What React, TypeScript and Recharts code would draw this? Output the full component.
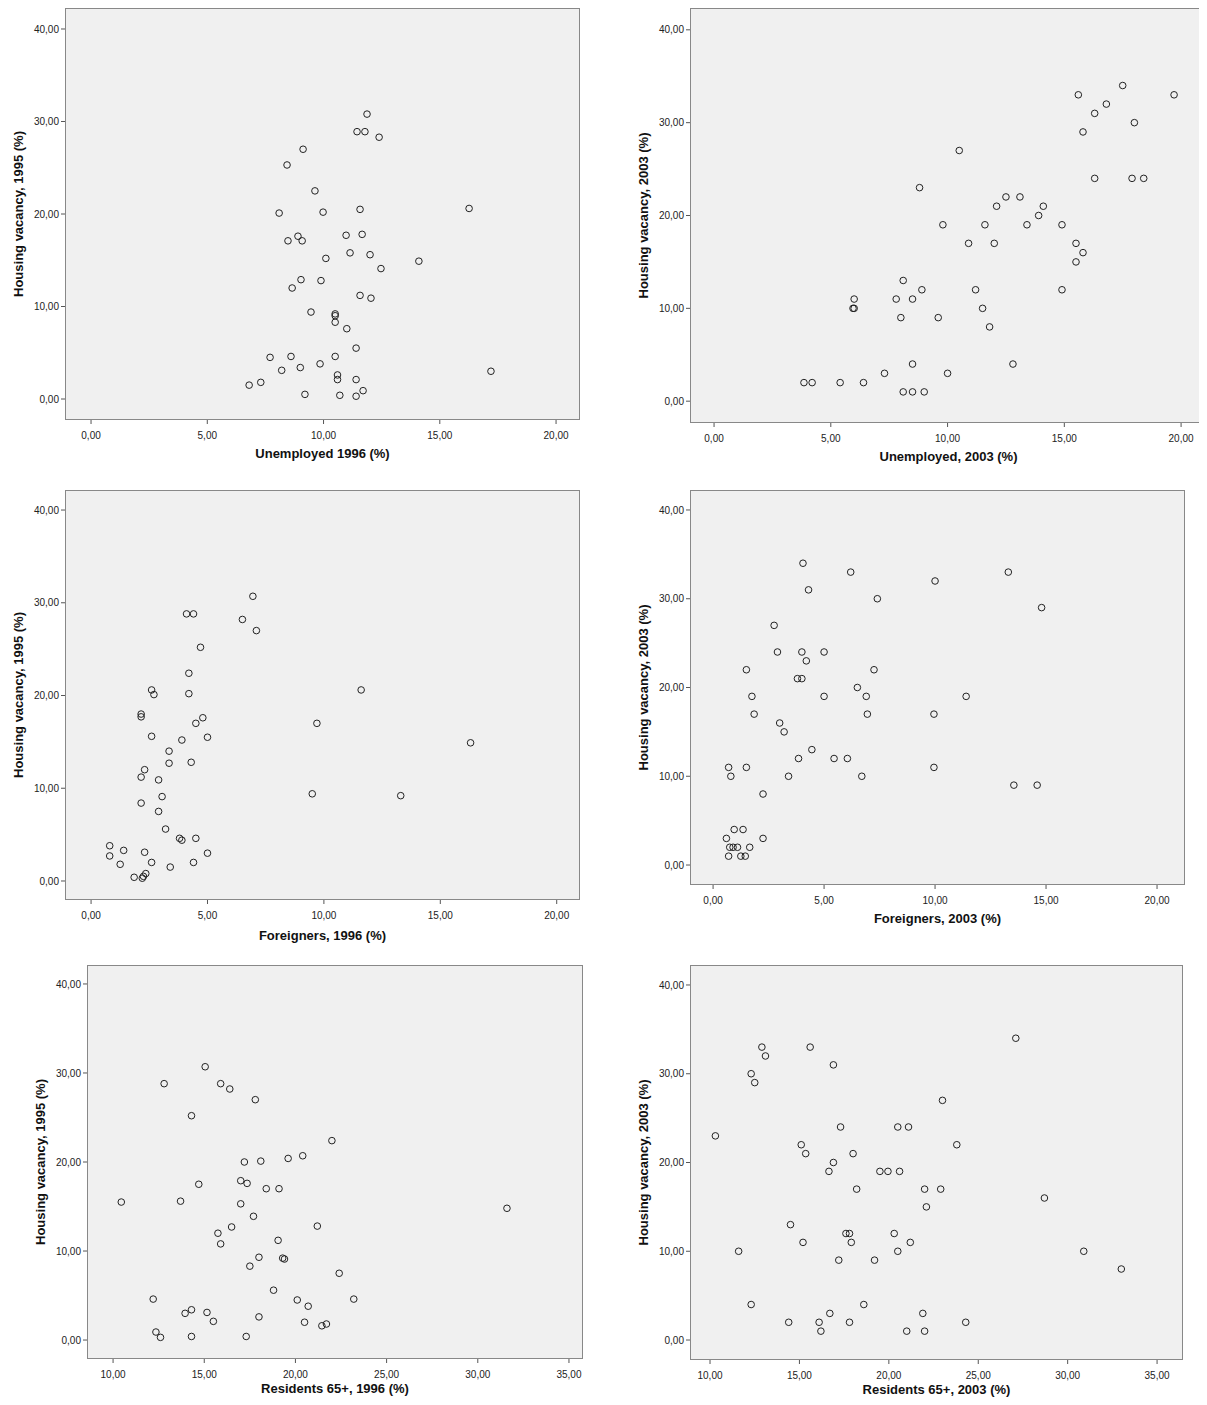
import React from 'react';
import { ScatterChart, Scatter, XAxis, YAxis } from 'recharts';

type P = { x: number; y: number };
const pts = (a: number[][]): P[] => a.map(([x, y]) => ({ x, y }));

const unemp1996 = pts([
  [11.87, 30.8], [11.44, 28.9], [11.78, 28.9], [12.39, 28.3], [9.12, 27.0], [8.43, 25.3], [9.63, 22.5],
  [11.57, 20.5], [16.26, 20.6], [8.09, 20.1], [9.98, 20.2], [10.97, 17.7], [11.66, 17.8], [8.9, 17.6],
  [8.47, 17.1], [9.08, 17.1], [11.14, 15.8], [12.0, 15.6], [10.1, 15.2], [12.47, 14.1], [14.1, 14.9],
  [9.03, 12.9], [9.89, 12.8], [8.65, 12.0], [11.57, 11.2], [12.04, 10.9], [9.46, 9.4], [10.5, 9.2],
  [10.5, 9.0], [10.5, 8.3], [11.0, 7.6], [11.4, 5.5], [7.7, 4.5], [8.6, 4.6], [10.5, 4.6], [9.85, 3.8],
  [8.2, 3.1], [9.0, 3.4], [17.2, 3.0], [10.6, 2.6], [7.3, 1.8], [6.8, 1.5], [10.6, 2.1], [11.4, 2.1],
  [11.7, 0.9], [9.2, 0.5], [10.7, 0.4], [11.4, 0.3],
]);
const unemp2003 = pts([
  [17.5, 34], [15.6, 33], [19.7, 33], [16.8, 32], [16.3, 31], [18.0, 30], [15.8, 29], [10.5, 27],
  [16.3, 24], [17.9, 24], [18.4, 24], [8.8, 23], [12.5, 22], [13.1, 22], [14.1, 21], [12.1, 21],
  [13.9, 20], [9.8, 19], [11.6, 19], [13.4, 19], [14.9, 19], [10.9, 17], [12.0, 17], [15.5, 17],
  [15.8, 16], [15.5, 15], [8.1, 13], [6.0, 11], [7.8, 11], [8.5, 11], [6.0, 10], [5.95, 10], [8.9, 12],
  [11.2, 12], [14.9, 12], [11.5, 10], [8.0, 9], [9.6, 9], [11.8, 8], [12.8, 4], [8.5, 4], [7.3, 3],
  [10.0, 3], [3.85, 2], [4.2, 2], [5.4, 2], [6.4, 2], [8.1, 1], [8.5, 1], [9.0, 1],
]);
const foreign1996 = pts([
  [6.95, 30.7], [4.1, 28.8], [4.4, 28.8], [6.5, 28.2], [7.1, 27.0], [4.7, 25.2], [4.2, 22.4], [2.6, 20.6],
  [2.7, 20.1], [11.6, 20.6], [4.2, 20.2], [2.15, 18.0], [2.15, 17.7], [4.8, 17.6], [4.5, 17.0], [9.7, 17.0],
  [2.6, 15.6], [5.0, 15.5], [3.9, 15.2], [16.3, 14.9], [3.35, 14.0], [3.35, 12.7], [4.3, 12.8], [2.3, 12.0],
  [2.15, 11.2], [2.9, 10.9], [3.05, 9.1], [9.5, 9.4], [13.3, 9.2], [2.15, 8.4], [2.9, 7.5], [3.2, 5.6],
  [3.8, 4.6], [3.9, 4.4], [4.5, 4.6], [0.8, 3.8], [1.4, 3.3], [2.3, 3.1], [5.0, 3.0], [0.8, 2.7],
  [1.25, 1.8], [2.6, 2.0], [4.4, 2.0], [3.4, 1.5], [2.35, 0.8], [1.85, 0.4], [2.2, 0.3], [2.25, 0.5],
]);
const foreign2003 = pts([
  [4.05, 34], [6.2, 33], [13.3, 33], [10.0, 32], [4.3, 31], [7.4, 30], [14.8, 29], [2.75, 27], [2.9, 24],
  [4.0, 24], [5.0, 24], [4.2, 23], [1.5, 22], [7.25, 22], [3.8, 21], [4.0, 21], [6.5, 20], [1.75, 19],
  [5.0, 19], [6.9, 19], [11.4, 19], [1.85, 17], [6.95, 17], [9.95, 17], [3.0, 16], [3.2, 15], [4.45, 13],
  [3.85, 12], [5.45, 12], [6.05, 12], [0.7, 11], [1.5, 11], [9.95, 11], [0.8, 10], [3.4, 10], [6.7, 10],
  [13.55, 9], [14.6, 9], [2.25, 8], [0.95, 4], [1.35, 4], [0.6, 3], [2.25, 3], [0.75, 2], [0.9, 2],
  [1.1, 2], [1.65, 2], [0.7, 1], [1.25, 1], [1.45, 1],
]);
const old1996 = pts([
  [15.05, 30.7], [12.8, 28.8], [15.9, 28.8], [16.4, 28.2], [17.8, 27.0], [14.3, 25.2], [22.0, 22.4],
  [20.4, 20.7], [17.2, 20.0], [18.1, 20.1], [19.6, 20.4], [10.45, 15.5], [14.7, 17.5], [17.0, 17.9],
  [17.35, 17.6], [18.4, 17.0], [19.1, 17.0], [13.7, 15.6], [17.0, 15.3], [17.7, 13.9], [16.5, 12.7],
  [21.2, 12.8], [15.75, 12.0], [15.9, 10.8], [19.05, 11.2], [18.0, 9.3], [19.3, 9.2], [19.4, 9.1],
  [17.5, 8.3], [22.4, 7.5], [18.8, 5.6], [12.2, 4.6], [23.2, 4.6], [20.1, 4.5], [20.7, 3.8], [13.95, 3.0],
  [14.3, 3.4], [15.15, 3.1], [18.0, 2.6], [15.5, 2.1], [20.5, 2.0], [21.7, 1.8], [21.45, 1.6], [12.35, 0.9],
  [12.6, 0.3], [14.3, 0.4], [17.3, 0.4], [31.6, 14.8],
]);
const old2003 = pts([
  [27.1, 34], [12.9, 33], [15.6, 33], [13.1, 32], [16.9, 31], [12.3, 30], [12.5, 29], [23.0, 27],
  [17.3, 24], [20.5, 24], [21.1, 24], [10.3, 23], [15.1, 22], [23.8, 22], [15.35, 21], [18.0, 21],
  [16.9, 20], [16.65, 19], [19.5, 19], [19.95, 19], [20.6, 19], [28.7, 16], [18.2, 17], [22.0, 17],
  [22.9, 17], [22.1, 15], [14.5, 13], [17.6, 12], [17.8, 12], [20.3, 12], [15.2, 11], [17.9, 11],
  [21.2, 11], [11.6, 10], [20.5, 10], [30.9, 10], [17.2, 9], [19.2, 9], [33.0, 8], [12.3, 4], [18.6, 4],
  [16.7, 3], [21.9, 3], [14.4, 2], [16.1, 2], [17.8, 2], [24.3, 2], [16.2, 1], [21.0, 1], [22.0, 1],
]);

const ticksA = [0, 5, 10, 15, 20];
const ticksB = [10, 15, 20, 25, 30, 35];
const ticksY = [0, 10, 20, 30, 40];

const fmt = (v: number) => v.toFixed(2).replace('.', ',');
const FONT = '"Liberation Sans", Arial, sans-serif';

const Dot = (p: any) => <circle cx={p.cx} cy={p.cy} r={3.3} fill="none" stroke="#222" strokeWidth={1} />;

interface PanelProps {
  data: P[];
  rect: [number, number, number, number];
  xd: [number, number];
  yd: [number, number];
  xt: number[];
  xl: string;
  yl: string;
  tm?: number;
  ld?: number;
}

const YW = 65;
const XH = 45;

function Panel({ data, rect, xd, yd, xt, xl, yl, tm = 8, ld = 38 }: PanelProps) {
  const [x, y, w, h] = rect;
  return (
    <>
      <div style={{ position: 'absolute', left: x, top: y, width: w, height: h, background: '#f0f0f0', border: '1px solid #888', boxSizing: 'border-box' }} />
      <div style={{ position: 'absolute', left: x - YW, top: y }}>
        <ScatterChart width={w + YW} height={h + XH} margin={{ top: 0, right: 0, left: 0, bottom: 0 }}>
          <XAxis type="number" dataKey="x" domain={xd} ticks={xt} allowDataOverflow axisLine={false}
            tickLine={{ stroke: '#555' }} tickSize={4} tickMargin={tm} tickFormatter={fmt} height={XH}
            tick={{ fontSize: 10, fill: '#222', fontFamily: FONT }}
            label={({ viewBox }: any) => (
              <text x={viewBox.x + viewBox.width / 2} y={viewBox.y + ld} textAnchor="middle"
                fontSize={13} fontWeight="bold" fontFamily={FONT} fill="#111">{xl}</text>
            )} />
          <YAxis type="number" dataKey="y" domain={yd} ticks={ticksY} allowDataOverflow axisLine={false}
            tickLine={{ stroke: '#555' }} tickSize={4} tickFormatter={fmt} width={YW}
            tick={{ fontSize: 10, fill: '#222', fontFamily: FONT }}
            label={({ viewBox }: any) => {
              const cx = viewBox.x + 18;
              const cy = viewBox.y + viewBox.height / 2;
              return (
                <text x={cx} y={cy} transform={`rotate(-90 ${cx} ${cy})`} textAnchor="middle" dominantBaseline="central"
                  fontSize={13} fontWeight="bold" fontFamily={FONT} fill="#111">{yl}</text>
              );
            }} />
          <Scatter data={data} shape={Dot} isAnimationActive={false} />
        </ScatterChart>
      </div>
    </>
  );
}

export default function App() {
  return (
    <div style={{ position: 'relative', width: 1207, height: 1405, margin: -8, background: '#fff', overflow: 'hidden' }}>
      <Panel data={unemp1996} rect={[65, 8, 515, 412]} xd={[-1.12, 21.03]} yd={[-2.27, 42.27]} xt={ticksA}
        xl="Unemployed 1996 (%)" yl="Housing vacancy, 1995 (%)" />
      <Panel data={unemp2003} rect={[690, 8, 517, 415]} xd={[-1.03, 21.11]} yd={[-2.35, 42.35]} xt={ticksA}
        xl="Unemployed, 2003 (%)" yl="Housing vacancy, 2003 (%)" />
      <Panel data={foreign1996} rect={[65, 490, 515, 410]} xd={[-1.12, 21.0]} yd={[-2.05, 42.16]} xt={ticksA}
        xl="Foreigners, 1996 (%)" yl="Housing vacancy, 1995 (%)" ld={40} />
      <Panel data={foreign2003} rect={[690, 490, 495, 395]} xd={[-1.04, 21.26]} yd={[-2.25, 42.25]} xt={ticksA}
        xl="Foreigners, 2003 (%)" yl="Housing vacancy, 2003 (%)" />
      <Panel data={old1996} rect={[87, 965, 496, 394]} xd={[8.57, 35.77]} yd={[-2.13, 42.13]} xt={ticksB}
        xl="Residents 65+, 1996 (%)" yl="Housing vacancy, 1995 (%)" ld={34} />
      <Panel data={old2003} rect={[690, 965, 493, 395]} xd={[8.88, 36.45]} yd={[-2.25, 42.25]} xt={ticksB}
        xl="Residents 65+, 2003 (%)" yl="Housing vacancy, 2003 (%)" ld={34} />
    </div>
  );
}
